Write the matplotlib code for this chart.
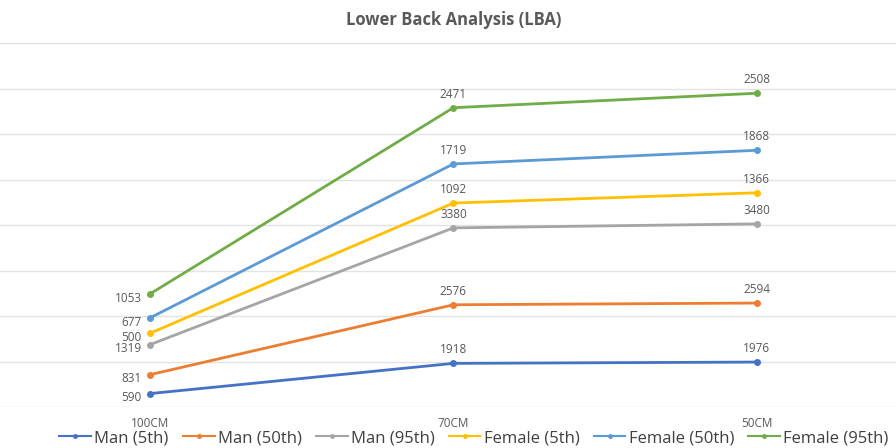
import numpy as np
import matplotlib.pyplot as plt

plt.rcParams['font.family'] = ['Open Sans', 'DejaVu Sans']

distances = ['100CM', '70CM', '50CM']
series_names = ['Man (5th)', 'Man (50th)', 'Man (95th)',
                'Female (5th)', 'Female (50th)', 'Female (95th)']
man_5th = [590, 1918, 1976]
man_50th = [831, 2576, 2594]
man_95th = [1319, 3380, 3480]
female_5th = [500, 1092, 1366]
female_50th = [677, 1719, 1868]
female_95th = [1053, 2471, 2508]
colors = ['#4472C4', '#ED7D31', '#A5A5A5', '#FFC000', '#5B9BD5', '#70AD47']

values = [man_5th, man_50th, man_95th, female_5th, female_50th, female_95th]

fig = plt.figure(figsize=(8.96, 4.48), dpi=100)
ax = fig.add_axes([-0.002, 0.0915, 1.016, 0.8125])

x = np.arange(len(distances))
# stacked line chart: each series sits on top of the ones before it
cum = np.zeros(len(distances))
handles = []
for name, vals, c in zip(series_names, values, colors):
    cum = cum + np.array(vals)
    ax.plot(x, cum, color=c, lw=2, marker='o', ms=4, zorder=3)
    h, = ax.plot([], [], color=c, lw=1.5, marker='o', ms=2.5, label=name)
    handles.append(h)
    for i, (xi, yi, v) in enumerate(zip(x, cum, vals)):
        if i == 0:
            ax.annotate(str(v), (xi, yi), xytext=(-6, -3),
                        textcoords='offset points', ha='right', va='center',
                        fontsize=8.5, color='#595959')
        else:
            ax.annotate(str(v), (xi, yi), xytext=(0, 5),
                        textcoords='offset points', ha='center',
                        va='bottom', fontsize=8.5, color='#595959')

ax.set_xlim(-0.5, 2.5)
ax.set_ylim(0, 16000)
ax.set_yticks(np.arange(0, 16001, 2000))
ax.yaxis.grid(True, color='#E3E3E3', lw=1)
ax.set_axisbelow(True)
ax.tick_params(axis='y', left=False, labelleft=False)
ax.tick_params(axis='x', bottom=False, labelsize=8.5, labelcolor='#595959',
               pad=4)
ax.set_xticks(x)
ax.set_xticklabels(distances)
for s in ax.spines.values():
    s.set_visible(False)

fig.text(0.506, 0.955, 'Lower Back Analysis (LBA)', ha='center', va='center',
         fontsize=12, fontweight='bold', color='#595959')

fig.legend(handles=handles, loc='center', bbox_to_anchor=(0.529, 0.022),
           ncol=6, frameon=False, fontsize=12, handlelength=1.9,
           handletextpad=0.2, columnspacing=0.85, labelcolor='#404040',
           borderpad=0, borderaxespad=0)

fig.savefig('out.png', dpi=100)
